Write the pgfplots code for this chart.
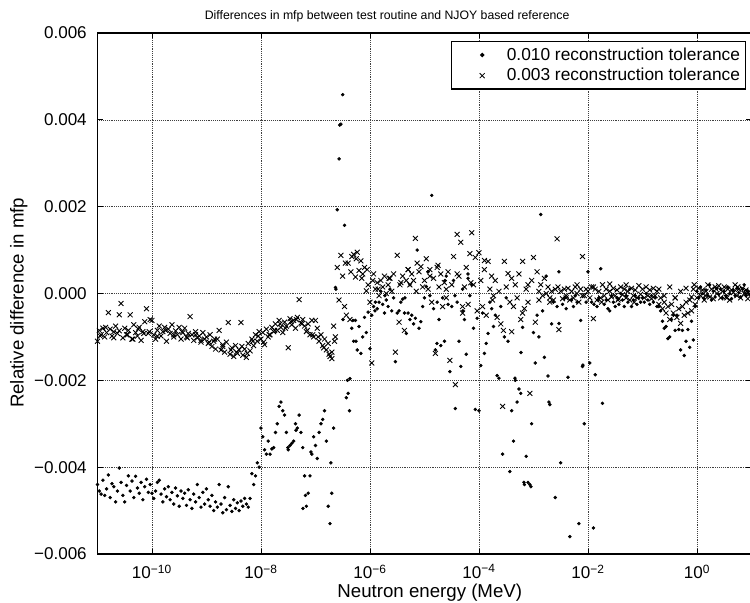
\documentclass[border=0pt]{standalone}
\usepackage{fontspec}
\setmainfont{Liberation Sans}
\usepackage{pgfplots}
\pgfplotsset{compat=1.18}
\usepackage{pgfplotstable}
\pgfplotsset{mylegimg/.style={legend image code/.code={\path (0cm,-0.1cm) (1.28cm,0.1cm); \draw[##1] plot coordinates {(0.72cm,0cm)};}}}

% x = neutron energy (MeV), d = 0.010 tolerance, c = 0.003 tolerance
\pgfplotstableread{
x d c
1.000e-11 -4.40e-3 -1.10e-3
1.080e-11 -4.55e-3 -0.85e-3
1.166e-11 -4.62e-3 -0.95e-3
1.259e-11 -4.30e-3 -0.80e-3
1.359e-11 -4.65e-3 -1.00e-3
1.468e-11 -4.50e-3 -0.90e-3
1.585e-11 -4.18e-3 -0.44e-3
1.711e-11 -4.70e-3 -0.82e-3
1.848e-11 -4.38e-3 -0.98e-3
1.995e-11 -4.45e-3 -0.88e-3
2.154e-11 -4.80e-3 -0.75e-3
2.326e-11 -4.55e-3 -0.92e-3
2.512e-11 -4.02e-3 -0.49e-3
2.712e-11 -4.35e-3 -0.23e-3
2.929e-11 -4.65e-3 -1.02e-3
3.162e-11 -4.80e-3 -0.80e-3
3.415e-11 -4.42e-3 -0.95e-3
3.687e-11 -4.20e-3 -0.85e-3
3.981e-11 -4.55e-3 -0.49e-3
4.299e-11 -4.32e-3 -1.05e-3
4.642e-11 -4.70e-3 -0.72e-3
5.012e-11 -4.21e-3 -0.90e-3
5.412e-11 -4.48e-3 -0.98e-3
5.843e-11 -4.60e-3 -0.78e-3
6.310e-11 -4.35e-3 -1.08e-3
6.813e-11 -4.75e-3 -0.88e-3
7.356e-11 -4.45e-3 -0.65e-3
7.943e-11 -4.28e-3 -0.35e-3
8.577e-11 -4.58e-3 -0.92e-3
9.261e-11 -4.40e-3 -0.60e-3
1.000e-10 -4.60e-3 -0.62e-3
1.080e-10 -4.72e-3 -0.95e-3
1.166e-10 -4.55e-3 -1.05e-3
1.259e-10 -4.35e-3 -0.85e-3
1.359e-10 -4.30e-3 -0.75e-3
1.468e-10 -4.62e-3 -0.98e-3
1.585e-10 -4.80e-3 -0.88e-3
1.711e-10 -4.50e-3 -0.78e-3
1.848e-10 -4.68e-3 -1.10e-3
1.995e-10 -4.45e-3 -0.82e-3
2.154e-10 -4.75e-3 -0.92e-3
2.326e-10 -4.58e-3 -0.72e-3
2.512e-10 -4.85e-3 -1.00e-3
2.712e-10 -4.48e-3 -0.86e-3
2.929e-10 -4.66e-3 -0.95e-3
3.162e-10 -4.90e-3 -0.78e-3
3.415e-10 -4.55e-3 -1.05e-3
3.687e-10 -4.72e-3 -0.90e-3
3.981e-10 -4.60e-3 -0.80e-3
4.299e-10 -4.88e-3 -1.00e-3
4.642e-10 -4.52e-3 -0.92e-3
5.012e-10 -4.75e-3 -0.53e-3
5.412e-10 -4.95e-3 -0.95e-3
5.843e-10 -4.62e-3 -1.08e-3
6.310e-10 -4.80e-3 -0.88e-3
6.813e-10 -4.40e-3 -1.02e-3
7.356e-10 -4.70e-3 -0.98e-3
7.943e-10 -4.92e-3 -1.12e-3
8.577e-10 -4.58e-3 -0.90e-3
9.261e-10 -4.85e-3 -1.05e-3
1.000e-9 -4.50e-3 -1.00e-3
1.080e-9 -4.75e-3 -1.15e-3
1.166e-9 -4.90e-3 -0.95e-3
1.259e-9 -4.65e-3 -1.22e-3
1.359e-9 -5.00e-3 -1.10e-3
1.468e-9 -4.80e-3 -1.28e-3
1.585e-9 -4.92e-3 -1.05e-3
1.711e-9 -4.40e-3 -0.85e-3
1.848e-9 -4.85e-3 -1.30e-3
1.995e-9 -5.05e-3 -1.18e-3
2.154e-9 -4.70e-3 -1.35e-3
2.326e-9 -4.98e-3 -1.12e-3
2.512e-9 -4.45e-3 -0.67e-3
2.712e-9 -4.88e-3 -1.40e-3
2.929e-9 -5.02e-3 -1.25e-3
3.162e-9 -4.75e-3 -1.45e-3
3.415e-9 -4.95e-3 -1.20e-3
3.687e-9 -4.82e-3 -1.38e-3
3.981e-9 -5.00e-3 -1.30e-3
4.299e-9 -4.78e-3 -0.67e-3
4.642e-9 -4.90e-3 -1.42e-3
5.012e-9 -4.72e-3 -1.28e-3
5.412e-9 -4.85e-3 -1.47e-3
5.843e-9 -4.92e-3 -1.15e-3
6.310e-9 -4.72e-3 -1.32e-3
6.813e-9 -4.15e-3 -1.05e-3
7.356e-9 -4.40e-3 -1.20e-3
7.943e-9 -4.20e-3 -0.95e-3
8.577e-9 -3.90e-3 -1.10e-3
9.261e-9 -4.00e-3 -0.88e-3
1.000e-8 -3.10e-3 -1.05e-3
1.080e-8 -3.30e-3 -0.90e-3
1.166e-8 -3.60e-3 -1.18e-3
1.259e-8 -3.70e-3 -0.82e-3
1.359e-8 -3.40e-3 -1.00e-3
1.468e-8 -3.70e-3 -0.95e-3
1.585e-8 -3.58e-3 -0.78e-3
1.711e-8 -3.55e-3 -0.88e-3
1.848e-8 -3.20e-3 -0.70e-3
1.995e-8 -3.00e-3 -0.85e-3
2.154e-8 -2.60e-3 -0.62e-3
2.326e-8 -2.50e-3 -0.78e-3
2.512e-8 -2.70e-3 -0.90e-3
2.712e-8 -2.80e-3 -0.66e-3
2.929e-8 -3.20e-3 -0.75e-3
3.162e-8 -3.60e-3 -1.25e-3
3.415e-8 -3.50e-3 -0.58e-3
3.687e-8 -3.45e-3 -0.72e-3
3.981e-8 -3.40e-3 -0.62e-3
4.299e-8 -3.00e-3 -0.80e-3
4.642e-8 -3.10e-3 -0.55e-3
5.012e-8 -2.80e-3 -0.14e-3
5.412e-8 -3.20e-3 -0.68e-3
5.843e-8 -3.55e-3 -0.60e-3
6.310e-8 -4.20e-3 -0.75e-3
6.813e-8 -4.90e-3 -0.88e-3
7.356e-8 -4.60e-3 -0.70e-3
7.943e-8 -4.20e-3 -0.95e-3
8.577e-8 -3.70e-3 -0.62e-3
9.261e-8 -3.30e-3 -1.00e-3
1.000e-7 -3.50e-3 -0.62e-3
1.080e-7 -3.80e-3 -0.80e-3
1.166e-7 -3.20e-3 -1.10e-3
1.259e-7 -3.00e-3 -0.95e-3
1.359e-7 -2.90e-3 -1.20e-3
1.468e-7 -2.70e-3 -1.05e-3
1.585e-7 -3.40e-3 -1.30e-3
1.711e-7 -4.90e-3 -1.15e-3
1.848e-7 -5.30e-3 -1.45e-3
1.995e-7 -4.60e-3 -1.35e-3
2.154e-7 -3.10e-3 -0.75e-3
2.326e-7 0.14e-3 -1.00e-3
2.512e-7 1.93e-3 0.60e-3
2.712e-7 3.10e-3 -0.15e-3
2.929e-7 3.90e-3 0.88e-3
3.162e-7 4.58e-3 0.40e-3
3.415e-7 1.57e-3 -0.30e-3
3.687e-7 -2.40e-3 -0.50e-3
3.981e-7 -2.30e-3 0.70e-3
4.299e-7 -1.96e-3 -0.60e-3
4.642e-7 -0.80e-3 0.85e-3
5.012e-7 -1.10e-3 0.90e-3
5.412e-7 -0.62e-3 0.38e-3
5.843e-7 -1.30e-3 0.95e-3
6.310e-7 -0.76e-3 0.53e-3
6.813e-7 -1.38e-3 0.75e-3
7.356e-7 -1.00e-3 0.45e-3
7.943e-7 -0.55e-3 0.60e-3
8.577e-7 -0.90e-3 0.06e-3
9.261e-7 -0.43e-3 0.20e-3
1.000e-6 -1.27e-3 -0.20e-3
1.080e-6 -0.50e-3 -1.60e-3
1.166e-6 -0.30e-3 0.45e-3
1.259e-6 -0.20e-3 0.10e-3
1.359e-6 -0.35e-3 0.25e-3
1.468e-6 -0.20e-3 -0.05e-3
1.585e-6 0.05e-3 0.30e-3
1.711e-6 -0.25e-3 0.15e-3
1.848e-6 -0.45e-3 0.40e-3
1.995e-6 -0.15e-3 0.00e-3
2.154e-6 -0.30e-3 0.20e-3
2.326e-6 0.10e-3 0.35e-3
2.512e-6 -0.40e-3 0.05e-3
2.712e-6 -0.10e-3 0.45e-3
2.929e-6 -1.57e-3 -1.35e-3
3.162e-6 -0.45e-3 0.88e-3
3.415e-6 -0.40e-3 -0.66e-3
3.687e-6 -0.20e-3 0.25e-3
3.981e-6 -0.13e-3 0.40e-3
4.299e-6 -0.45e-3 -0.85e-3
4.642e-6 -0.92e-3 0.30e-3
5.012e-6 -0.45e-3 0.55e-3
5.412e-6 -0.60e-3 0.20e-3
5.843e-6 -0.50e-3 0.45e-3
6.310e-6 -0.70e-3 0.30e-3
6.813e-6 -0.57e-3 1.27e-3
7.356e-6 1.00e-3 0.70e-3
7.943e-6 -0.80e-3 0.50e-3
8.577e-6 -0.65e-3 0.62e-3
9.261e-6 -0.30e-3 0.15e-3
1.000e-5 -0.10e-3 0.30e-3
1.080e-5 0.16e-3 0.80e-3
1.166e-5 0.50e-3 0.10e-3
1.259e-5 -0.05e-3 0.55e-3
1.359e-5 2.26e-3 -0.20e-3
1.468e-5 -0.35e-3 0.35e-3
1.585e-5 -1.30e-3 -1.38e-3
1.711e-5 -0.20e-3 0.60e-3
1.848e-5 -0.60e-3 0.15e-3
1.995e-5 -1.20e-3 0.45e-3
2.154e-5 -0.10e-3 -0.30e-3
2.326e-5 -1.10e-3 0.25e-3
2.512e-5 0.40e-3 -0.10e-3
2.712e-5 -0.25e-3 0.50e-3
2.929e-5 -1.80e-3 -1.54e-3
3.162e-5 -0.30e-3 0.20e-3
3.415e-5 0.30e-3 0.85e-3
3.687e-5 -2.65e-3 -2.10e-3
3.981e-5 -0.20e-3 1.36e-3
4.299e-5 -1.10e-3 0.40e-3
4.642e-5 -1.68e-3 1.18e-3
5.012e-5 0.10e-3 -0.45e-3
5.412e-5 -0.60e-3 0.15e-3
5.843e-5 -1.40e-3 0.60e-3
6.310e-5 0.35e-3 -0.25e-3
6.813e-5 -0.05e-3 0.92e-3
7.356e-5 0.20e-3 1.40e-3
7.943e-5 -0.80e-3 0.20e-3
8.577e-5 -2.67e-3 0.83e-3
9.261e-5 -0.57e-3 -0.40e-3
1.000e-4 -2.70e-3 0.94e-3
1.080e-4 -1.66e-3 0.30e-3
1.166e-4 -0.45e-3 -0.30e-3
1.259e-4 -1.38e-3 0.76e-3
1.359e-4 -1.15e-3 -0.50e-3
1.468e-4 -0.92e-3 0.74e-3
1.585e-4 -0.20e-3 0.10e-3
1.711e-4 -0.35e-3 0.40e-3
1.848e-4 -0.76e-3 -0.05e-3
1.995e-4 -0.50e-3 0.30e-3
2.154e-4 -1.89e-3 -0.55e-3
2.326e-4 -1.95e-3 0.05e-3
2.512e-4 -0.30e-3 -0.70e-3
2.712e-4 -3.70e-3 -2.60e-3
2.929e-4 -1.00e-3 0.74e-3
3.162e-4 -0.10e-3 0.15e-3
3.415e-4 -1.10e-3 0.46e-3
3.687e-4 -4.10e-3 -0.20e-3
3.981e-4 -2.70e-3 -0.88e-3
4.299e-4 -3.40e-3 -0.30e-3
4.642e-4 -2.00e-3 0.20e-3
5.012e-4 -2.50e-3 -0.10e-3
5.412e-4 -2.20e-3 0.45e-3
5.843e-4 -2.30e-3 -0.60e-3
6.310e-4 -0.78e-3 0.74e-3
6.813e-4 -4.40e-3 -0.35e-3
7.356e-4 -3.75e-3 0.10e-3
7.943e-4 -4.35e-3 -0.20e-3
8.577e-4 -4.40e-3 -2.30e-3
9.261e-4 -3.00e-3 0.30e-3
1.000e-3 -0.90e-3 0.83e-3
1.080e-3 -1.60e-3 -0.66e-3
1.166e-3 -0.50e-3 0.50e-3
1.259e-3 -1.00e-3 -0.15e-3
1.359e-3 1.82e-3 0.20e-3
1.468e-3 -0.40e-3 -0.05e-3
1.585e-3 -1.47e-3 0.35e-3
1.711e-3 0.40e-3 0.00e-3
1.848e-3 -1.90e-3 0.15e-3
1.995e-3 -2.56e-3 -0.10e-3
2.154e-3 -0.70e-3 0.05e-3
2.326e-3 -0.20e-3 -0.15e-3
2.512e-3 -4.70e-3 0.10e-3
2.712e-3 -0.30e-3 1.26e-3
2.929e-3 0.50e-3 -0.83e-3
3.162e-3 -3.90e-3 0.05e-3
3.415e-3 -0.25e-3 -0.12e-3
3.687e-3 -0.10e-3 0.10e-3
3.981e-3 -0.35e-3 -0.05e-3
4.299e-3 -1.93e-3 0.12e-3
4.642e-3 -5.60e-3 -0.15e-3
5.012e-3 -0.15e-3 0.05e-3
5.412e-3 -0.30e-3 -0.10e-3
5.843e-3 -0.05e-3 0.15e-3
6.310e-3 -0.20e-3 0.00e-3
6.813e-3 -5.30e-3 -0.20e-3
7.356e-3 -0.62e-3 0.10e-3
7.943e-3 -1.68e-3 0.85e-3
8.577e-3 -3.00e-3 -0.05e-3
9.261e-3 -0.20e-3 0.10e-3
1.000e-2 0.50e-3 0.05e-3
1.080e-2 -1.60e-3 -0.10e-3
1.166e-2 -0.20e-3 0.15e-3
1.259e-2 -5.40e-3 -0.58e-3
1.359e-2 -1.87e-3 0.10e-3
1.468e-2 -0.30e-3 -0.15e-3
1.585e-2 -0.10e-3 0.05e-3
1.711e-2 0.57e-3 -0.10e-3
1.848e-2 -2.53e-3 0.20e-3
1.995e-2 -0.25e-3 -0.05e-3
2.154e-2 -0.15e-3 0.10e-3
2.326e-2 -0.35e-3 -0.15e-3
2.512e-2 -0.40e-3 0.05e-3
2.712e-2 -0.05e-3 -0.08e-3
2.929e-2 -0.20e-3 0.12e-3
3.162e-2 -0.30e-3 -0.05e-3
3.415e-2 -0.10e-3 0.08e-3
3.687e-2 -0.25e-3 -0.12e-3
3.981e-2 0.00e-3 0.15e-3
4.299e-2 -0.15e-3 -0.03e-3
4.642e-2 -0.30e-3 0.10e-3
5.012e-2 -0.05e-3 -0.10e-3
5.412e-2 -0.20e-3 0.05e-3
5.843e-2 0.10e-3 -0.15e-3
6.310e-2 -0.30e-3 0.12e-3
6.813e-2 -0.15e-3 -0.05e-3
7.356e-2 -0.05e-3 0.08e-3
7.943e-2 -0.25e-3 -0.10e-3
8.577e-2 -0.10e-3 0.18e-3
9.261e-2 -0.20e-3 -0.02e-3
1.000e-1 -0.10e-3 0.10e-3
1.080e-1 -0.20e-3 -0.10e-3
1.166e-1 0.00e-3 0.15e-3
1.259e-1 -0.15e-3 -0.05e-3
1.359e-1 -0.25e-3 0.08e-3
1.468e-1 -0.05e-3 -0.12e-3
1.585e-1 -0.20e-3 0.12e-3
1.711e-1 -0.10e-3 -0.05e-3
1.848e-1 -0.30e-3 0.05e-3
1.995e-1 -0.30e-3 -0.25e-3
2.154e-1 -0.40e-3 -0.10e-3
2.326e-1 -0.64e-3 -0.35e-3
2.512e-1 -0.80e-3 -0.20e-3
2.712e-1 -0.76e-3 -0.45e-3
2.929e-1 -1.04e-3 -0.30e-3
3.162e-1 -1.00e-3 -0.60e-3
3.415e-1 -0.60e-3 -0.25e-3
3.687e-1 -0.50e-3 -0.45e-3
3.981e-1 -0.85e-3 -0.10e-3
4.299e-1 -0.50e-3 -0.55e-3
4.642e-1 -0.83e-3 -0.35e-3
5.012e-1 -1.30e-3 -0.69e-3
5.412e-1 -0.85e-3 -0.30e-3
5.843e-1 -1.43e-3 -0.50e-3
6.310e-1 -1.10e-3 -0.20e-3
6.813e-1 -0.83e-3 -0.45e-3
7.356e-1 -1.24e-3 -0.15e-3
7.943e-1 -0.64e-3 -0.40e-3
8.577e-1 -1.07e-3 0.10e-3
9.261e-1 -0.30e-3 -0.25e-3
1.000e0 0.05e-3 -0.10e-3
1.080e0 -0.10e-3 0.12e-3
1.166e0 0.15e-3 -0.05e-3
1.259e0 0.00e-3 0.08e-3
1.359e0 -0.12e-3 -0.15e-3
1.468e0 0.08e-3 0.05e-3
1.585e0 -0.05e-3 0.20e-3
1.711e0 0.20e-3 -0.08e-3
1.848e0 -0.15e-3 0.10e-3
1.995e0 0.05e-3 -0.12e-3
2.154e0 -0.08e-3 0.15e-3
2.326e0 0.12e-3 0.00e-3
2.512e0 -0.02e-3 0.18e-3
2.712e0 0.10e-3 -0.10e-3
2.929e0 -0.10e-3 0.05e-3
3.162e0 0.05e-3 0.15e-3
3.415e0 -0.05e-3 -0.08e-3
3.687e0 0.15e-3 0.10e-3
3.981e0 0.00e-3 -0.15e-3
4.299e0 -0.12e-3 0.08e-3
4.642e0 0.08e-3 0.02e-3
5.012e0 -0.05e-3 0.20e-3
5.412e0 0.12e-3 -0.05e-3
5.843e0 0.02e-3 0.10e-3
6.310e0 -0.08e-3 -0.10e-3
6.813e0 0.10e-3 0.12e-3
7.356e0 0.20e-3 0.00e-3
7.943e0 -0.05e-3 0.08e-3
8.577e0 0.05e-3 -0.12e-3
9.261e0 -0.02e-3 0.05e-3
}\maintab

% additional 0.010-tolerance points
\pgfplotstableread{
x y
5.902e-8 -4.95e-3
6.560e-8 -4.65e-3
8.260e-8 -3.65e-3
3.130e-8 -3.55e-3
4.390e-8 -3.15e-3
1.920e-7 -3.90e-3
2.790e-7 3.88e-3
4.210e-7 -2.70e-3
3.870e-7 -2.00e-3
3.200e-7 -0.60e-3
2.380e-7 0.10e-3
4.880e-7 -0.62e-3
5.540e-7 -1.10e-3
1.236e-6 -0.40e-3
1.880e-6 -0.05e-3
4.390e-6 -0.10e-3
5.420e-6 0.20e-3
1.159e-5 0.50e-3
1.694e-5 -1.15e-3
2.375e-5 0.30e-3
3.630e-5 -0.05e-3
5.080e-5 -0.40e-3
6.280e-5 0.45e-3
4.580e-4 -1.95e-3
5.900e-4 -1.36e-3
6.700e-4 -4.35e-3
8.990e-4 -4.45e-3
1.923e-3 -2.50e-3
2.940e-3 -0.69e-3
8.090e-3 -1.65e-3
1.288e-2 -0.25e-3
1.524e-2 -0.15e-3
}\dotextra

% additional 0.003-tolerance points
\pgfplotstableread{
x y
1.122e-11 -0.98e-3
1.413e-11 -0.78e-3
1.995e-11 -1.02e-3
2.512e-11 -0.86e-3
3.548e-11 -0.95e-3
4.467e-11 -1.05e-3
5.623e-11 -0.82e-3
7.079e-11 -0.92e-3
8.913e-11 -0.88e-3
1.259e-10 -0.98e-3
1.778e-10 -0.85e-3
2.512e-10 -0.95e-3
3.548e-10 -0.88e-3
4.467e-10 -1.02e-3
6.310e-10 -0.95e-3
7.943e-10 -1.08e-3
1.122e-9 -1.12e-3
1.413e-9 -1.05e-3
1.995e-9 -1.22e-3
2.818e-9 -1.30e-3
3.548e-9 -1.35e-3
4.467e-9 -1.22e-3
5.623e-9 -1.38e-3
7.079e-9 -1.10e-3
8.913e-9 -0.98e-3
1.122e-8 -1.12e-3
1.413e-8 -0.95e-3
1.778e-8 -0.85e-3
2.239e-8 -0.70e-3
2.818e-8 -0.80e-3
3.548e-8 -0.65e-3
4.467e-8 -0.60e-3
5.623e-8 -0.70e-3
7.079e-8 -0.85e-3
8.913e-8 -0.95e-3
1.122e-7 -1.00e-3
1.413e-7 -1.25e-3
1.778e-7 -1.40e-3
1.995e-7 -1.50e-3
2.239e-7 -1.10e-3
3.548e-7 0.70e-3
4.467e-7 0.50e-3
5.623e-7 0.80e-3
7.079e-7 0.35e-3
8.913e-7 0.55e-3
1.122e-6 0.30e-3
1.413e-6 0.10e-3
2.239e-6 0.35e-3
3.548e-6 0.20e-3
5.012e-6 0.55e-3
7.079e-6 0.05e-3
1.259e-5 0.40e-3
1.778e-5 0.65e-3
2.512e-5 0.10e-3
3.981e-5 0.45e-3
5.012e-5 -0.30e-3
7.079e-5 0.25e-3
1.259e-4 0.55e-3
1.778e-4 -0.15e-3
2.818e-4 -0.85e-3
3.981e-4 0.35e-3
6.310e-4 -0.45e-3
7.943e-4 0.20e-3
1.259e-3 0.05e-3
1.995e-3 -0.20e-3
2.818e-3 0.15e-3
3.981e-3 -0.10e-3
6.310e-3 0.20e-3
7.943e-3 -0.05e-3
1.259e-2 0.15e-3
1.778e-2 -0.20e-3
2.512e-2 0.22e-3
3.548e-2 -0.15e-3
5.012e-2 0.20e-3
7.079e-2 -0.20e-3
1.995e-1 0.10e-3
2.512e-1 -0.05e-3
3.162e-1 0.15e-3
3.981e-1 -0.10e-3
5.012e-1 0.05e-3
6.310e-1 0.12e-3
7.943e-1 -0.08e-3
8.913e-1 0.20e-3
1.413e0 -0.05e-3
2.239e0 0.10e-3
3.548e0 -0.10e-3
5.623e0 0.15e-3
7.943e0 0.00e-3
}\crossextra

\begin{document}
\begin{tikzpicture}
\begin{axis}[
  name=ax,
  scale only axis,
  width=490.5pt, height=390.75pt,
  xmode=log, log basis x=10,
  xmin=1e-11, xmax=1e1,
  ymin=-0.006, ymax=0.006,
  scaled y ticks=false,
  xtick={1e-10,1e-8,1e-6,1e-4,1e-2,1e0},
  xticklabels={10\textsuperscript{−10},10\textsuperscript{−8},10\textsuperscript{−6},10\textsuperscript{−4},10\textsuperscript{−2},10\textsuperscript{0}},
  ytick={-0.006,-0.004,-0.002,0,0.002,0.004,0.006},
  yticklabels={−0.006,−0.004,−0.002,0.000,0.002,0.004,0.006},
  xminorticks=false, yminorticks=false,
  grid=major,
  major grid style={densely dotted, black!75, line width=0.45pt},
  tick align=inside,
  major tick length=4pt,
  tick style={black, line width=0.5pt},
  axis line style={line width=1pt},
  ticklabel style={font=\fontsize{12.8}{14}\selectfont},
  xticklabel style={yshift=-4.5pt},
  yticklabel style={xshift=-4.5pt},
  label style={font=\fontsize{14}{16}\selectfont},
  xlabel={Neutron energy (MeV)},
  ylabel={Relative difference in mfp},
  xlabel style={xshift=4pt, yshift=3.5pt},
  ylabel style={xshift=-7pt, yshift=-2pt},
  title={Differences in mfp between test routine and NJOY based reference},
  title style={font=\fontsize{9.2}{11}\selectfont, xshift=-28pt, yshift=-1pt},
  legend style={at={(rel axis cs:1,1)}, xshift=-4.1pt, yshift=-6pt, anchor=north east,
    font=\fontsize{13}{15}\selectfont, draw=black, line width=1pt,
    inner xsep=2pt, inner ysep=2.6pt, row sep=0.5pt},
  legend cell align=left,
]
\addplot[only marks, mark=*, mark size=1.1pt, black, mylegimg] table[x=x, y=d] {\maintab};
\addlegendentry{0.010 reconstruction tolerance}
\addplot[only marks, mark=x, mark size=2.6pt, black, mark options={line width=0.65pt}, mylegimg] table[x=x, y=c] {\maintab};
\addlegendentry{0.003 reconstruction tolerance}
\addplot[only marks, mark=*, mark size=1.1pt, black, forget plot] table[x=x, y=y] {\dotextra};
\addplot[only marks, mark=x, mark size=2.6pt, black, mark options={line width=0.65pt}, forget plot] table[x=x, y=y] {\crossextra};
\end{axis}
\pgfresetboundingbox
\path[use as bounding box] ([xshift=-73.1pt,yshift=-36.75pt]ax.south west) rectangle ([xshift=-1.1pt,yshift=24.75pt]ax.north east);
\end{tikzpicture}
\end{document}
